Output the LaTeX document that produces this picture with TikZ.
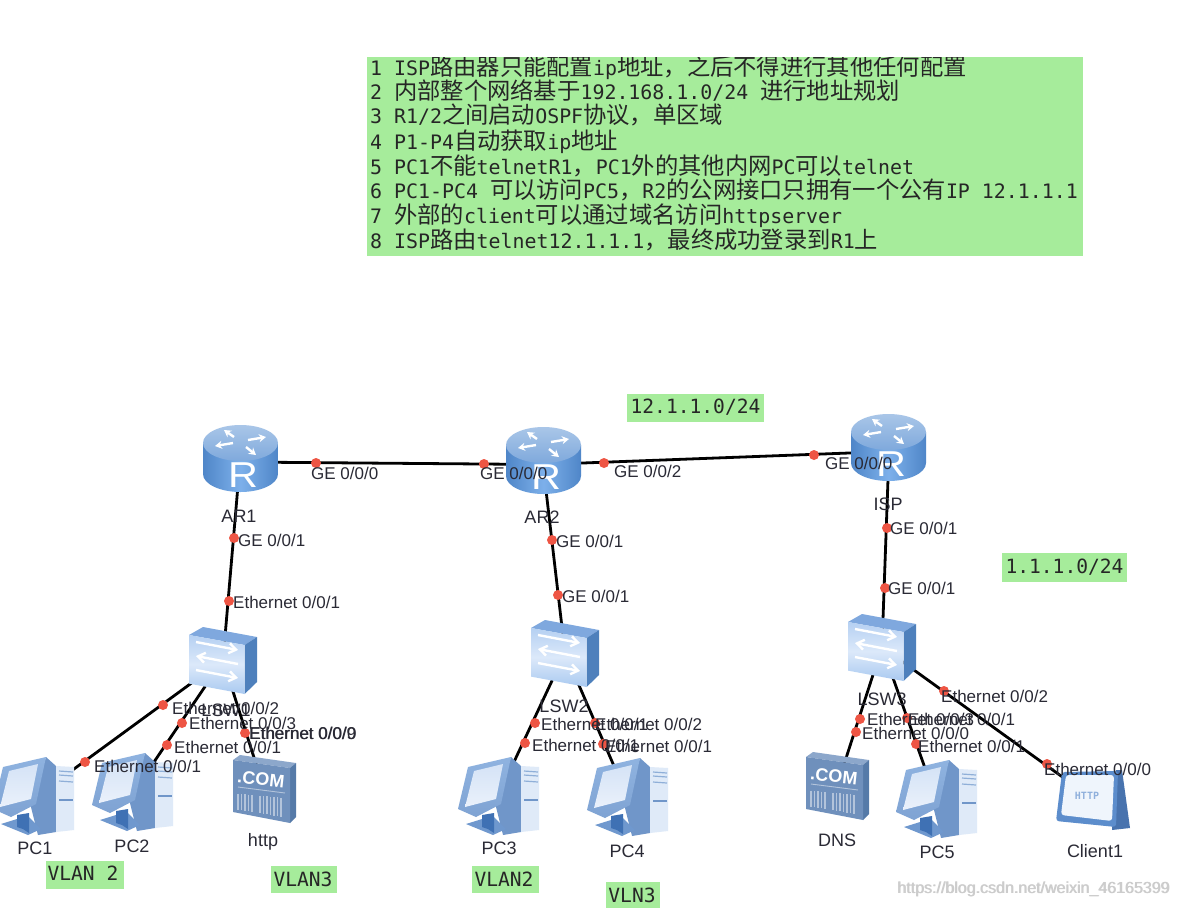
\documentclass[tikz,border=0pt]{standalone}
\usepackage{fontspec}
\usetikzlibrary{arrows.meta}
\setmainfont{Liberation Sans}
\newfontfamily\monof{DejaVu Sans Mono}
\newfontfamily\cjkf{Noto Sans CJK SC}
\newcommand{\C}[1]{{\cjkf\fontsize{23.3}{24}\selectfont #1}}
\definecolor{notegreen}{HTML}{A6EC9B}
\definecolor{dotred}{HTML}{EE5544}
\definecolor{labink}{HTML}{2A2A35}
\definecolor{rtedge}{HTML}{4F86C8}
\definecolor{rtmid}{HTML}{7DB0EA}
\definecolor{rttop}{HTML}{A9C6E8}
\definecolor{rttopb}{HTML}{7FA9DC}
\definecolor{swtop}{HTML}{7FA8DE}
\definecolor{swside}{HTML}{4E80BC}
\definecolor{swfa}{HTML}{B5D0F2}
\definecolor{swfb}{HTML}{DCE9FA}
\definecolor{swfc}{HTML}{A9C9F0}
\definecolor{pcdark}{HTML}{7096C9}
\definecolor{pcframe}{HTML}{8FB3E0}
\definecolor{pcframeb}{HTML}{7FA3D3}
\definecolor{pcscreen}{HTML}{EAF1FB}
\definecolor{pcscreenb}{HTML}{D5E3F6}
\definecolor{pctower}{HTML}{DFEAF8}
\definecolor{pcslot}{HTML}{8FAFD8}
\definecolor{pcfoot}{HTML}{6F98CE}
\definecolor{pcstand}{HTML}{3F71B4}
\definecolor{svfront}{HTML}{6F90BC}
\definecolor{svtop}{HTML}{8CA7CB}
\definecolor{svside}{HTML}{557AA8}
\definecolor{svbar}{HTML}{B3C4DB}
\definecolor{clframe}{HTML}{5C8DCC}
\definecolor{clside}{HTML}{4873AE}
\definecolor{clin}{HTML}{EFF5FC}
\definecolor{clhttp}{HTML}{8FB0DC}
\tikzset{
  link/.style={line width=2.8pt,black},
  pdot/.style={circle,fill=dotred,minimum size=10pt,inner sep=0pt},
  plab/.style={anchor=west,inner sep=0pt,text=labink,font=\fontsize{17}{17}\selectfont},
  dlab/.style={inner sep=0pt,text=labink,font=\fontsize{18}{18}\selectfont},
  notebox/.style={fill=notegreen,draw=none},
  monotxt/.style={inner sep=0pt,text=black!85,font=\monof\fontsize{19.6}{20}\selectfont},
  noteline/.style={anchor=base west,inner sep=0pt,text=black!85,font=\monof\fontsize{19.9}{24}\selectfont},
  wm/.style={anchor=west,inner sep=0pt,text=black!20,font=\fontsize{16}{16}\selectfont},
  whitearrow/.style={white,line width=2.4pt,-{Stealth[length=7pt,width=8pt]}},
  swarrow/.style={white,line width=2.4pt,-{Straight Barb[length=7pt,width=10pt]}}
}
\newcommand{\routericon}[3]{%
\begin{scope}[shift={(#2,#3)}]
  \path[left color=rtedge,right color=rtedge,middle color=rtmid]
    (0,18) -- (0,49) .. controls (0,59) and (17,67) .. (37.5,67) .. controls (58,67) and (75,59) .. (75,49) -- (75,18) -- cycle;
  \path[top color=rttop,bottom color=rttopb] (37.5,18) ellipse [x radius=37.5pt,y radius=18pt];
  \draw[whitearrow] (31,12) -- (21,5);
  \draw[whitearrow] (30,18) -- (12,21);
  \draw[whitearrow] (43,22) -- (53,30);
  \draw[whitearrow] (45,15) -- (63,12);
  \node[inner sep=0pt,text=white,xscale=1.15,font=\fontsize{36}{36}\selectfont] (#1R) at (40,50) {R};
\end{scope}}
\newcommand{\switchicon}[2]{%
\begin{scope}[shift={(#1,#2)}]
  \fill[swtop] (0,8) -- (14,0) -- (68,10) -- (55.6,18) -- cycle;
  \fill[swside] (55.6,18) -- (68,10) -- (68,55) -- (55.6,67) -- cycle;
  \path[top color=swfa,bottom color=swfc,middle color=swfb] (0,8) -- (55.6,18) -- (55.6,67) -- (0,56.6) -- cycle;
  \draw[swarrow] (7,15) -- (49,23);
  \draw[swarrow] (49,37) -- (7,29);
  \draw[swarrow] (7,43) -- (49,51);
\end{scope}}
\newcommand{\pcicon}[2]{%
\begin{scope}[shift={(#1,#2)}]
  \fill[pcdark] (53,0) -- (63,9) -- (63,75) -- (45,78) -- (38,50) -- cycle;
  \fill[pctower] (63,9) -- (81,10) -- (81,73) -- (63,75) -- cycle;
  \draw[pcslot,line width=1.2pt] (66,14) -- (80,15) (66,18) -- (80,19) (66,24) -- (80,25);
  \draw[pcdark,line width=1.6pt] (66,43) -- (80,43);
  \fill[pcfoot] (8,67) -- (24,62) -- (36,60) -- (48,72) -- (35,78) -- cycle;
  \fill[pcstand] (24,58) -- (36,56) -- (36,76) -- (30,72) -- (24,70) -- cycle;
  \path[top color=pcframe,bottom color=pcframeb] (0,52) -- (10,10) -- (53,0) -- (43,47) -- (18,60) -- cycle;
  \path[top color=pcscreenb,bottom color=pcscreen] (16,14) -- (45,7) -- (38,42) -- (7,50) -- cycle;
\end{scope}}
\newcommand{\servericon}[3]{%
\begin{scope}[shift={(#2,#3)}]
  \fill[svtop] (0,5) -- (7,0) -- (63,8) -- (57,13) -- cycle;
  \fill[svside] (57,13) -- (63,8) -- (63,62) -- (57,68) -- cycle;
  \fill[svfront] (0,5) -- (57,13) -- (57,68) -- (0,57) -- cycle;
  \node[inner sep=0pt,text=white,rotate=-6,font=\bfseries\fontsize{18}{18}\selectfont] (#1C) at (28,24) {.COM};
  \draw[svbar,line width=.9pt] (5,32) -- (52,38);
  \foreach \sx in {5,8.5,12,15.5,19,27,30.5,34,37.5,41,44.5,48}{%
    \draw[svbar,line width=1.5pt] (\sx,{38+\sx*.1}) -- (\sx,{54+\sx*.16});}
\end{scope}}
\newcommand{\clienticon}[3]{%
\begin{scope}[shift={(#2,#3)}]
  \fill[clside] (60,2) -- (66,2) -- (74,60) -- (56,62) -- cycle;
  \fill[clframe,rounded corners=3pt] (6,4) -- (62,3) -- (60,59) -- (0,53) -- cycle;
  \fill[clin,rounded corners=3pt] (10,7) -- (58,7) -- (56,53) -- (5,47) -- cycle;
  \node[inner sep=0pt,text=clhttp,font=\monof\bfseries\fontsize{10}{10}\selectfont] (#1H) at (31,28) {HTTP};
\end{scope}}
\begin{document}
\begin{tikzpicture}[x=1pt,y=-1pt]
\useasboundingbox (0,0) rectangle (1177,908);
\fill[white] (0,0) rectangle (1177,908);
% note boxes
\fill[notebox] (367,57) rectangle (1083,256);
\fill[notebox] (627,394) rectangle (764,422);
\fill[notebox] (1002,553) rectangle (1127,582);
\fill[notebox] (46,861) rectangle (124,889);
\fill[notebox] (271,866) rectangle (337,893);
\fill[notebox] (472,866) rectangle (539,893);
\fill[notebox] (606,882) rectangle (660,908);
\begin{scope}
\clip (367,57) rectangle (1083,256);
\node[noteline] (n1) at (370,75) {1 ISP\C{路由器只能配置}ip\C{地址，之后不得进行其他任何配置}};
\end{scope}
\node[noteline] (n2) at (370,99) {2 \C{内部整个网络基于}192.168.1.0/24 \C{进行地址规划}};
\node[noteline] (n3) at (370,123) {3 R1/2\C{之间启动}OSPF\C{协议，单区域}};
\node[noteline] (n4) at (370,149) {4 P1-P4\C{自动获取}ip\C{地址}};
\node[noteline] (n5) at (370,174) {5 PC1\C{不能}telnetR1\C{，}PC1\C{外的其他内网}PC\C{可以}telnet};
\node[noteline] (n6) at (370,198) {6 PC1-PC4 \C{可以访问}PC5\C{，}R2\C{的公网接口只拥有一个公有}IP 12.1.1.1};
\node[noteline] (n7) at (370,223) {7 \C{外部的}client\C{可以通过域名访问}httpserver};
\node[noteline] (n8) at (370,248) {8 ISP\C{路由}telnet12.1.1.1\C{，最终成功登录到}R1\C{上}};
\node[monotxt] (t12) at (695.5,407) {12.1.1.0/24};
\node[monotxt] (t11) at (1064.5,567) {1.1.1.0/24};
\node[monotxt] (tv2a) at (83,873) {VLAN 2};
\node[monotxt] (tv3a) at (303,879) {VLAN3};
\node[monotxt] (tv2b) at (504,879) {VLAN2};
\node[monotxt] (tv3b) at (632,895) {VLN3};
% device centres
\coordinate (ar1) at (240,462);
\coordinate (ar2) at (543,464.5);
\coordinate (isp) at (889,451.5);
\coordinate (lsw1) at (223,660);
\coordinate (lsw2) at (565,653);
\coordinate (lsw3) at (882,647);
\coordinate (pc1) at (37,796);
\coordinate (pc2) at (133,793);
\coordinate (http) at (264,789);
\coordinate (pc3) at (498,796);
\coordinate (pc4) at (627,796);
\coordinate (dns) at (837,786);
\coordinate (pc5) at (936,799);
\coordinate (cl1) at (1093,799);
% connectors
\draw[link] (ar1) -- (ar2);
\draw[link] (ar2) -- (isp);
\draw[link] (ar1) -- (lsw1);
\draw[link] (ar2) -- (lsw2);
\draw[link] (isp) -- (lsw3);
\draw[link] (lsw1) -- (pc1);
\draw[link] (lsw1) -- (pc2);
\draw[link] (lsw1) -- (http);
\draw[link] (lsw2) -- (pc3);
\draw[link] (lsw2) -- (pc4);
\draw[link] (lsw3) -- (dns);
\draw[link] (lsw3) -- (pc5);
\draw[link] (lsw3) -- (cl1);
% icons
\routericon{a}{203}{425}
\routericon{b}{506}{427}
\routericon{c}{851}{414}
\switchicon{189}{627}
\switchicon{531}{620}
\switchicon{848}{614}
\pcicon{-7}{757}
\pcicon{92}{753}
\pcicon{458}{757}
\pcicon{587}{758}
\pcicon{896}{760}
\servericon{h}{233}{755}
\servericon{d}{806}{752}
\clienticon{e}{1056}{768}
% device labels
\node[dlab] (lar1) at (239,516) {AR1};
\node[dlab] (lar2) at (542,517) {AR2};
\node[dlab] (lisp) at (888,504) {ISP};
\node[dlab] (lsa) at (226,710) {LSW1};
\node[dlab] (lsb) at (564,706) {LSW2};
\node[dlab] (lsc) at (882,699) {LSW3};
\node[dlab] (lp1) at (35,848) {PC1};
\node[dlab] (lp2) at (132,846) {PC2};
\node[dlab] (lh) at (263,842) {http};
\node[dlab] (lp3) at (499,848) {PC3};
\node[dlab] (lp4) at (627,851) {PC4};
\node[dlab] (ld) at (837,840) {DNS};
\node[dlab] (lp5) at (937,852) {PC5};
\node[dlab] (lc) at (1095,851) {Client1};
% port dots
\foreach \n/\x/\y in {a/316/463,b/484/464,c/604/463,d/814/455,e/234/538,f/229/601,g/552/540,h/558/595,i/887/528,j/885/588,k/163/705,l/182/723,m/167/745,o/85/762,p/245/733,q/535/723,r/525/743,s/595/723,t/603/744,u/944/691,v/860/719,w/856/732,x/907/718,y/916/744,z/1047/764}
  \node[pdot] (dot\n) at (\x,\y) {};
% port labels
\node[plab] (pa) at (311,473) {GE 0/0/0};
\node[plab] (pb) at (480,473) {GE 0/0/0};
\node[plab] (pc) at (614,471) {GE 0/0/2};
\node[plab] (pd) at (825,463) {GE 0/0/0};
\node[plab] (pe) at (238,540) {GE 0/0/1};
\node[plab] (pf) at (233,602) {Ethernet 0/0/1};
\node[plab] (pg) at (556,541) {GE 0/0/1};
\node[plab] (ph) at (562,596) {GE 0/0/1};
\node[plab] (pi) at (890,528) {GE 0/0/1};
\node[plab] (pj) at (888,588) {GE 0/0/1};
\node[plab] (pk) at (172,708) {Ethernet 0/0/2};
\node[plab] (pl) at (189,723) {Ethernet 0/0/3};
\node[plab] (pm) at (174,747) {Ethernet 0/0/1};
\node[plab] (po) at (94,766) {Ethernet 0/0/1};
\node[plab] (pp) at (249,733) {Ethernet 0/0/9};
\node[plab] (pp2) at (249.5,733) {Ethernet 0/0/0};
\node[plab] (pq) at (541,724) {Ethernet 0/0/1};
\node[plab] (pr) at (532,745) {Ethernet 0/0/1};
\node[plab] (ps) at (595,724) {Ethernet 0/0/2};
\node[plab] (pt) at (605,746) {Ethernet 0/0/1};
\node[plab] (pu) at (941,696) {Ethernet 0/0/2};
\node[plab] (pv) at (867,719) {Ethernet 0/0/3};
\node[plab] (pw) at (862,733) {Ethernet 0/0/0};
\node[plab] (px) at (908,719) {Ethernet 0/0/1};
\node[plab] (py) at (918,746) {Ethernet 0/0/1};
\node[plab] (pz) at (1044,769) {Ethernet 0/0/0};
% watermark
\node[wm] (w1) at (897,889) {https://blog.csdn.net/weixin\_46165399};
\node[wm] (w2) at (897.8,889) {https://blog.csdn.net/weixin\_46165399};
\end{tikzpicture}
\end{document}
